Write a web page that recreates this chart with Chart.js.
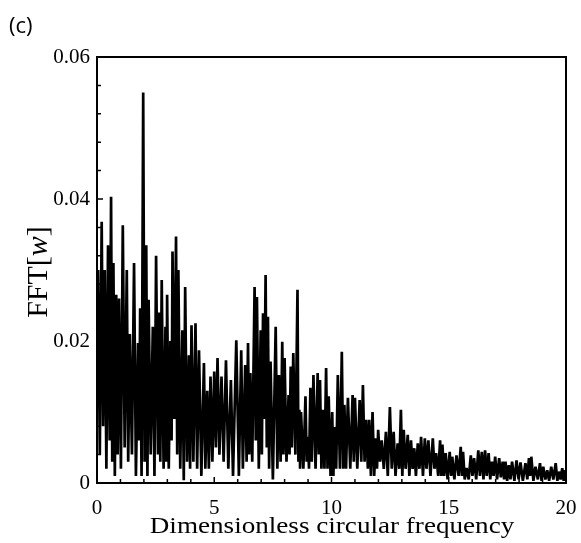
<!DOCTYPE html>
<html>
<head>
<meta charset="utf-8">
<script src="https://cdn.jsdelivr.net/npm/chart.js@4/dist/chart.umd.min.js"></script>
<style>
html,body{margin:0;padding:0;background:#fff;}
#wrap{position:relative;width:581px;height:543px;}
canvas{display:block;}
</style>
</head>
<body>
<div id="wrap"><canvas id="c" width="581" height="543"></canvas></div>
<script>
// Dimensionless circular frequency (x) and FFT[w] amplitude (y)
const freq = [
0.00,0.05,0.12,0.20,0.26,0.33,0.40,0.47,0.54,0.60,0.65,0.70,0.76,0.82,0.88,0.94,1.02,1.10,1.18,1.27,
1.33,1.40,1.49,1.58,1.66,1.75,1.80,1.84,1.90,1.97,2.03,2.10,2.15,2.20,2.29,2.38,2.45,2.52,2.60,2.64,
2.70,2.76,2.84,2.92,2.96,2.99,3.06,3.13,3.18,3.22,3.30,3.37,3.42,3.47,3.55,3.64,3.70,3.76,3.84,3.92,
3.97,4.03,4.11,4.20,4.27,4.35,4.45,4.56,4.62,4.70,4.77,4.84,4.92,5.00,5.07,5.14,5.22,5.31,5.40,5.50,
5.60,5.71,5.80,5.94,6.05,6.15,6.22,6.32,6.38,6.44,6.49,6.54,6.62,6.72,6.77,6.82,6.90,6.98,7.03,7.08,
7.13,7.19,7.24,7.29,7.34,7.40,7.50,7.62,7.69,7.76,7.83,7.90,7.95,8.00,8.08,8.17,8.21,8.26,8.31,8.37,
8.46,8.55,8.59,8.63,8.66,8.70,8.80,8.89,8.94,8.99,9.04,9.10,9.16,9.23,9.32,9.41,9.46,9.51,9.57,9.63,
9.70,9.77,9.83,9.88,9.96,10.03,10.08,10.13,10.20,10.27,10.36,10.44,10.50,10.55,10.62,10.70,10.80,10.90,10.95,11.00,
11.10,11.20,11.27,11.34,11.41,11.48,11.55,11.61,11.68,11.75,11.82,11.89,11.94,11.99,12.07,12.14,12.23,12.32,12.40,12.49,
12.57,12.65,12.73,12.82,12.89,12.96,13.02,13.08,13.16,13.25,13.32,13.39,13.46,13.53,13.60,13.68,13.75,13.82,13.90,13.98,
14.05,14.13,14.22,14.32,14.39,14.46,14.55,14.63,14.68,14.73,14.80,14.87,14.95,15.04,15.10,15.15,15.24,15.33,15.42,15.51,
15.56,15.61,15.68,15.76,15.85,15.94,16.01,16.08,16.17,16.26,16.33,16.41,16.48,16.55,16.62,16.70,16.77,16.84,16.91,16.98,
17.06,17.15,17.22,17.30,17.36,17.42,17.49,17.56,17.63,17.70,17.80,17.89,17.98,18.06,18.16,18.27,18.35,18.42,18.47,18.52,
18.61,18.70,18.80,18.89,18.96,19.03,19.12,19.20,19.28,19.37,19.46,19.56,19.63,19.70,19.77,19.84,19.90,19.94,20.00
];
const amp = [
0.028,0.030,0.004,0.0368,0.008,0.030,0.002,0.0335,0.006,0.0403,0.003,0.031,0.001,0.0265,0.004,0.026,0.002,0.0363,0.005,0.030,
0.003,0.021,0.004,0.031,0.001,0.0197,0.006,0.0246,0.001,0.055,0.003,0.0335,0.001,0.0258,0.004,0.022,0.001,0.032,0.004,0.024,
0.003,0.0286,0.002,0.022,0.003,0.0265,0.002,0.020,0.006,0.0326,0.009,0.0347,0.004,0.030,0.002,0.0215,0.0004,0.0276,0.003,0.018,
0.002,0.0222,0.003,0.0225,0.002,0.0187,0.001,0.0169,0.002,0.013,0.002,0.015,0.003,0.0157,0.005,0.0176,0.004,0.015,0.003,0.0173,
0.002,0.0145,0.001,0.0201,0.001,0.0187,0.002,0.0166,0.003,0.0197,0.004,0.0155,0.003,0.0276,0.006,0.0262,0.002,0.0215,0.004,0.0239,
0.009,0.0293,0.005,0.0234,0.002,0.0171,0.0005,0.022,0.002,0.0152,0.003,0.0199,0.004,0.0176,0.003,0.0124,0.004,0.0164,0.005,0.0183,
0.004,0.0272,0.003,0.0103,0.002,0.0100,0.002,0.0122,0.003,0.0065,0.002,0.0134,0.003,0.0152,0.002,0.0155,0.004,0.0145,0.002,0.0103,
0.002,0.0162,0.002,0.0122,0.001,0.0100,0.001,0.0079,0.002,0.0152,0.002,0.0185,0.002,0.011,0.002,0.012,0.002,0.0124,0.003,0.012,
0.002,0.0117,0.003,0.0138,0.003,0.0089,0.002,0.0089,0.001,0.0100,0.001,0.0063,0.002,0.0075,0.003,0.006,0.002,0.0072,0.001,0.0107,
0.002,0.0072,0.001,0.0056,0.002,0.0103,0.001,0.0075,0.002,0.0068,0.001,0.006,0.002,0.0049,0.001,0.0056,0.002,0.0065,0.001,0.0063,
0.002,0.006,0.001,0.0063,0.002,0.0042,0.001,0.006,0.001,0.0054,0.001,0.0042,0.0005,0.0044,0.001,0.0037,0.0005,0.0039,0.001,0.0051,
0.001,0.0044,0.0005,0.0021,0.0005,0.0039,0.001,0.0035,0.0005,0.0046,0.001,0.0044,0.0005,0.0046,0.001,0.0042,0.0005,0.003,0.001,0.0037,
0.0005,0.0035,0.0008,0.003,0.0005,0.003,0.0003,0.0025,0.0005,0.003,0.0003,0.0032,0.0005,0.0029,0.0003,0.0028,0.0005,0.0035,0.001,0.0037,
0.0003,0.0023,0.0005,0.0028,0.0003,0.0023,0.0005,0.0018,0.0003,0.0023,0.0005,0.0028,0.0003,0.0016,0.0005,0.0021,0.0003,0.0018,0.0005
];
const xTicks = [0, 5, 10, 15, 20];
const yTicks = [0, 0.02, 0.04, 0.06];
const xTitle = 'Dimensionless circular frequency';
const yTitleParts = ['FFT[', 'w', ']'];
const panelLabel = '(c)';

const points = freq.map((f, i) => ({x: f, y: amp[i]}));
const serif = "'Liberation Serif','Times New Roman',serif";

const framePlugin = {
  id: 'frame',
  afterDraw(chart) {
    const ctx = chart.ctx, a = chart.chartArea;
    const xs = chart.scales.x, ys = chart.scales.y;
    ctx.save();
    ctx.strokeStyle = '#000';
    ctx.lineWidth = 2;
    ctx.strokeRect(a.left, a.top, a.right - a.left, a.bottom - a.top);
    ctx.lineWidth = 1.5;
    ctx.beginPath();
    for (let v = 0; v <= 20; v += 1) {
      const px = xs.getPixelForValue(v);
      const len = (v % 5 === 0) ? 6 : 4;
      ctx.moveTo(px, a.bottom); ctx.lineTo(px, a.bottom - len);
    }
    for (let k = 0; k <= 15; k++) {
      const v = k * 0.004;
      const py = ys.getPixelForValue(v);
      const len = (k % 5 === 0) ? 6 : 4;
      ctx.moveTo(a.left, py); ctx.lineTo(a.left + len, py);
    }
    ctx.stroke();
    // x axis title (slightly widened, as in the reference)
    ctx.fillStyle = '#000';
    ctx.font = '24px ' + serif;
    ctx.textAlign = 'center';
    ctx.textBaseline = 'alphabetic';
    ctx.save();
    ctx.translate(332, 533);
    ctx.scale(1.13, 1);
    ctx.fillText(xTitle, 0, 0);
    ctx.restore();
    // y title with italic w
    ctx.translate(47, 272);
    ctx.rotate(-Math.PI / 2);
    const fonts = ['30px ' + serif, 'italic 30px ' + serif, '30px ' + serif];
    let total = 0;
    const widths = yTitleParts.map((t, i) => { ctx.font = fonts[i]; const w = ctx.measureText(t).width; total += w; return w; });
    let cx = -total / 2;
    ctx.textAlign = 'left';
    yTitleParts.forEach((t, i) => { ctx.font = fonts[i]; ctx.fillText(t, cx, 0); cx += widths[i]; });
    ctx.restore();
    // panel label
    ctx.save();
    ctx.fillStyle = '#000';
    ctx.font = "22px 'Open Sans','Liberation Sans',sans-serif";
    ctx.textAlign = 'left';
    ctx.textBaseline = 'alphabetic';
    ctx.fillText(panelLabel, 9, 33);
    ctx.restore();
  }
};

new Chart(document.getElementById('c'), {
  type: 'line',
  data: {
    datasets: [{
      data: points,
      borderColor: '#000',
      borderWidth: 2.7,
      borderJoinStyle: 'bevel',
      pointRadius: 0,
      tension: 0,
      fill: false
    }]
  },
  options: {
    responsive: false,
    animation: false,
    devicePixelRatio: 1,
    layout: {padding: {left: 0, top: 57, right: 15, bottom: 0}},
    plugins: {legend: {display: false}, tooltip: {enabled: false}, title: {display: false}},
    scales: {
      x: {
        type: 'linear', min: 0, max: 20,
        grid: {display: false, drawTicks: false},
        border: {display: false},
        afterBuildTicks(s) { s.ticks = xTicks.map(v => ({value: v})); },
        afterFit(s) { s.height = 60; s.paddingLeft = 0; s.paddingRight = 0; },
        ticks: {color: '#000', font: {family: serif, size: 21}, padding: 13, maxRotation: 0,
          callback: v => String(v)}
      },
      y: {
        type: 'linear', min: 0, max: 0.06,
        grid: {display: false, drawTicks: false},
        border: {display: false},
        afterBuildTicks(s) { s.ticks = yTicks.map(v => ({value: v})); },
        afterFit(s) { s.width = 97; s.paddingTop = 0; s.paddingBottom = 0; },
        ticks: {color: '#000', font: {family: serif, size: 21}, padding: 7,
          callback: v => v === 0 ? '0' : v.toFixed(2)}
      }
    }
  },
  plugins: [framePlugin]
});
</script>
</body>
</html>
